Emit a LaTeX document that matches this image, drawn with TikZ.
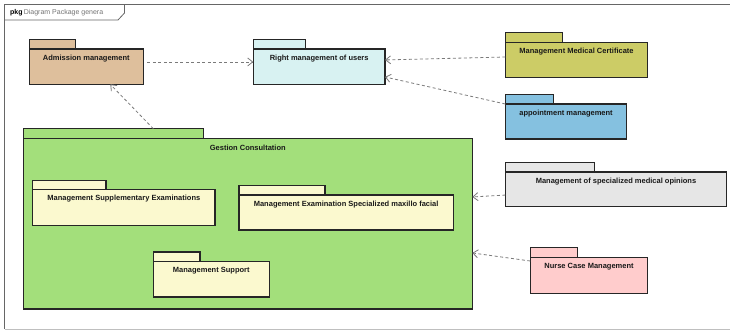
\documentclass[tikz,border=0pt]{standalone}
\usepackage{fontspec}
\setmainfont{Liberation Sans}
\usetikzlibrary{arrows.meta}

\definecolor{frameline}{HTML}{666666}
\definecolor{depline}{HTML}{7A7A7A}
\definecolor{cTan}{HTML}{DEBF9C}
\definecolor{cCyan}{HTML}{D8F2F2}
\definecolor{cOlive}{HTML}{CCCC66}
\definecolor{cBlue}{HTML}{85C1E0}
\definecolor{cGreen}{HTML}{A3DF7B}
\definecolor{cCream}{HTML}{FBF9CF}
\definecolor{cGrey}{HTML}{E6E6E6}
\definecolor{cPink}{HTML}{FFCCCC}

\tikzset{
  pkgline/.style={draw=black!85, line width=1.2pt},
  pkgtext/.style={font=\fontsize{7.5}{9}\selectfont\bfseries, text=black!90, inner sep=0pt, anchor=north},
  dep/.style={draw=depline, line width=0.8pt, dash pattern=on 3pt off 2.5pt,
              -{Straight Barb[length=5pt,width=8pt,line width=0.8pt]}},
}

% #1 name, #2 fill, #3 left, #4 tab top, #5 tab right, #6 body top, #7 right, #8 bottom, #9 title
\newcommand\pkgbox[9]{%
  \node[pkgline, fill=#2, inner sep=0pt, outer sep=0pt, anchor=north west,
        minimum width={(#5-#3)*1pt}, minimum height={(#6-#4)*1pt}] (#1-tab) at (#3,#4) {};
  \node[pkgline, fill=#2, inner sep=0pt, outer sep=0pt, anchor=north west,
        minimum width={(#7-#3)*1pt}, minimum height={(#8-#6)*1pt}] (#1) at (#3,#6) {};
  \node[pkgtext] (#1-label) at ([yshift=-5.5pt]#1.north) {#9};
}

\begin{document}
\begin{tikzpicture}[x=1pt, y=-1pt]
  \useasboundingbox (0,0) rectangle (730,330);

  % diagram frame and its name tab
  \draw[frameline, line width=0.8pt] (736,4.5) -- (4.5,4.5) -- (4.5,329);
  \draw[black!25, line width=0.8pt] (4.5,329) -- (736,329);
  \draw[frameline, line width=0.8pt] (4.5,20) -- (118,20) -- (124.5,13) -- (124.5,4.5);
  \node[anchor=west, inner sep=0pt, font=\fontsize{7}{8}\selectfont] (frame-title) at (10,12.5)
    {\textbf{pkg}\,\textcolor{black!55}{Diagram Package genera}};

  % packages
  \pkgbox{adm}{cTan}{29.3}{39.3}{75.7}{49}{143.3}{84.3}{Admission management}
  \pkgbox{rights}{cCyan}{253.3}{39.3}{305.7}{49}{385}{84.3}{Right management of users}
  \pkgbox{cert}{cOlive}{505.3}{32.7}{562.7}{42.3}{647.7}{77.7}{Management Medical Certificate}
  \pkgbox{appt}{cBlue}{505.3}{94.3}{553.7}{104}{626.7}{139}{appointment management}

  \pkgbox{gestion}{cGreen}{23.3}{128.7}{203.3}{138.3}{472.3}{309}{}
  \node[pkgtext] (gestion-title) at ([yshift=-6.5pt]gestion.north) {Gestion Consultation};
  \pkgbox{supp}{cCream}{32.7}{180.3}{106}{189.7}{215}{225.3}{Management Supplementary Examinations}
  \pkgbox{maxi}{cCream}{239}{185.3}{325}{195}{453.3}{230}{Management Examination Specialized maxillo facial}
  \pkgbox{support}{cCream}{153.3}{252}{200}{261.7}{269.3}{297}{Management Support}

  \pkgbox{opin}{cGrey}{505.3}{162.3}{594.7}{172}{726.7}{206.7}{Management of specialized medical opinions}
  \pkgbox{nurse}{cPink}{530.3}{247.7}{577.7}{257.3}{647.7}{293.3}{Nurse Case Management}

  % dependencies
  \draw[dep] ([xshift=4pt,yshift=4.7pt]adm.east) -- ([yshift=4.7pt]rights.west);
  \draw[dep] ([yshift=3pt]cert.west) -- ([yshift=6.7pt]rights.east);
  \draw[dep] (appt.north west) -- ([yshift=-10.3pt]rights.east);
  \draw[dep] ([xshift=40pt]gestion-tab.north) -- ([xshift=24pt]adm.south);
  \draw[dep] ([yshift=-5.7pt]opin.west) -- ([yshift=26.7pt]gestion.east);
  \draw[dep] ([yshift=-3.7pt]nurse.north west) -- ([yshift=-29.3pt]gestion.east);
\end{tikzpicture}
\end{document}
